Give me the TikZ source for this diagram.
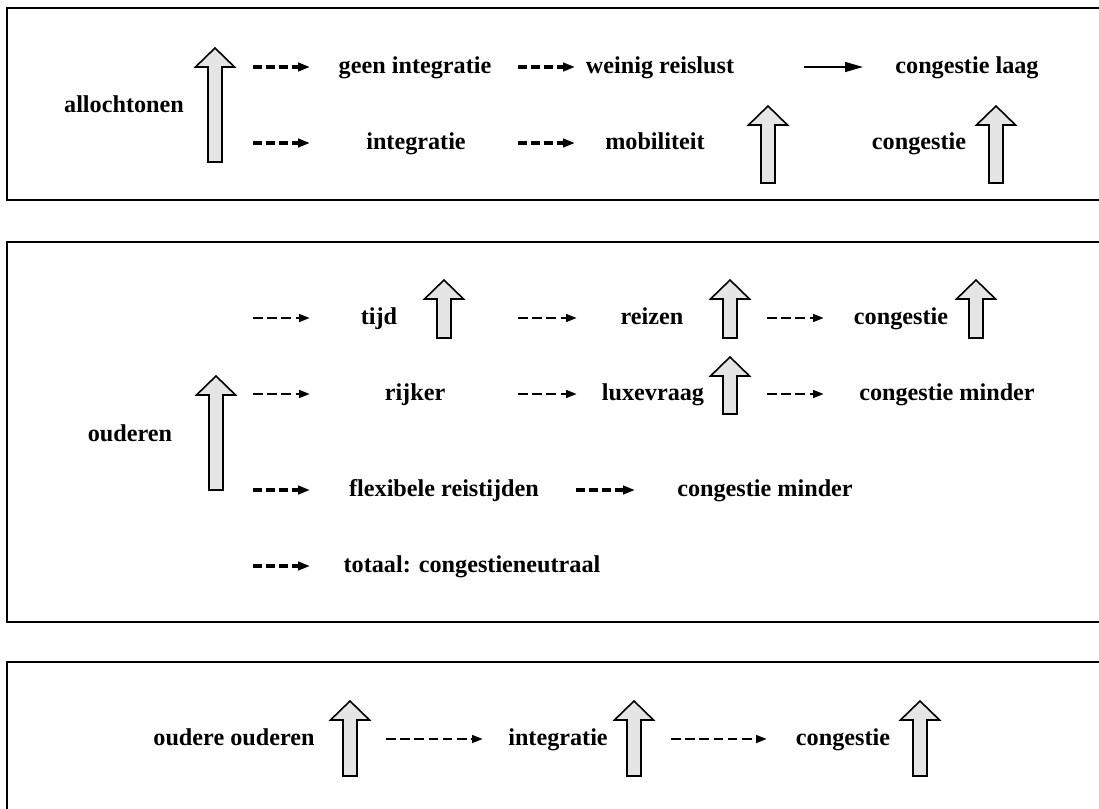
\documentclass[tikz,border=0pt]{standalone}
\usepackage{fontspec}
\setmainfont{Liberation Serif}
\usetikzlibrary{arrows.meta}
\tikzset{
  txt/.style = {font = \fontsize{12.1}{14}\selectfont\bfseries, anchor = base, inner sep = 0pt},
  kader/.style = {draw = black, line width = 1pt},
  blok/.style = {draw = black, fill = black!10, line width = 0.8pt, line join = miter},
  stippijl/.style = {line width = 1.6pt, dash pattern = on 4.5pt off 2pt, -{Triangle[length = 6pt, width = 4.2pt]}},
  stippijldun/.style = {line width = 1.3pt, dash pattern = on 4.8pt off 2.3pt, -{Triangle[length = 5.5pt, width = 3.8pt]}},
  vastpijl/.style = {line width = 0.7pt, -{Triangle[length = 9pt, width = 5pt]}}
}
\newcommand\blokpijl[3]{\draw[blok] (#1-7,#3) -- (#1-7,#2+19) -- (#1-19.5,#2+19) -- (#1,#2) -- (#1+19.5,#2+19) -- (#1+7,#2+19) -- (#1+7,#3) -- cycle;}
\begin{document}
\begin{tikzpicture}[x = 0.5pt, y = -0.5pt]
\useasboundingbox (0,0) rectangle (1099,809);
\draw[kader] (7,8) rectangle (1112,200);
\draw[kader] (7,242) rectangle (1112,622);
\draw[kader] (7,662) rectangle (1112,830);
% allochtonen
\node[txt] (allo) at (124,112) {allochtonen};
\node[txt] (geenint) at (415,73) {geen integratie};
\node[txt] (integr) at (416,149) {integratie};
\node[txt] (weinig) at (660,73) {weinig reislust};
\node[txt] (mobil) at (655,149) {mobiliteit};
\node[txt] (conglaag) at (967,73) {congestie laag};
\node[txt] (congA) at (919,149) {congestie};
\blokpijl{215}{48}{162}
\blokpijl{768}{106}{183}
\blokpijl{996}{106}{183}
\foreach \nm/\xa/\xb/\yy in {a1/253/310/67, a2/253/310/143, a3/518/575/67, a4/518/575/143} {
  \coordinate (\nm s) at (\xa,\yy);
  \coordinate (\nm e) at (\xb,\yy);
  \draw[stippijl] (\nm s) -- (\nm e);
}
\coordinate (a5s) at (804,67);
\coordinate (a5e) at (863,67);
\draw[vastpijl] (a5s) -- (a5e);
% ouderen
\node[txt] (oud) at (130,441) {ouderen};
\node[txt] (tijd) at (379,324) {tijd};
\node[txt] (rijker) at (415,400) {rijker};
\node[txt] (reizen) at (652,324) {reizen};
\node[txt] (luxe) at (653,400) {luxevraag};
\node[txt] (congB) at (901,324) {congestie};
\node[txt] (congmin) at (947,400) {congestie minder};
\node[txt] (flex) at (444,496) {flexibele reistijden};
\node[txt] (congmin2) at (765,496) {congestie minder};
\node[txt] (totaal) at (472,572) {totaal: congestieneutraal};
\blokpijl{216}{376}{490}
\blokpijl{444}{280}{338}
\blokpijl{730}{280}{338}
\blokpijl{730}{357}{414}
\blokpijl{976}{280}{338}
\foreach \nm/\xa/\xb/\yy in {b1/253/310/318, b2/253/310/394, b3/518/577/318, b4/518/577/394, b5/767/824/318, b6/767/824/394} {
  \coordinate (\nm s) at (\xa,\yy);
  \coordinate (\nm e) at (\xb,\yy);
  \draw[stippijldun] (\nm s) -- (\nm e);
}
\foreach \nm/\xa/\xb/\yy in {b7/253/310/490, b8/576/635/490, b9/253/310/566} {
  \coordinate (\nm s) at (\xa,\yy);
  \coordinate (\nm e) at (\xb,\yy);
  \draw[stippijl] (\nm s) -- (\nm e);
}
% oudere ouderen
\node[txt] (oudoud) at (234,745) {oudere ouderen};
\node[txt] (integrC) at (558,745) {integratie};
\node[txt] (congC) at (843,745) {congestie};
\blokpijl{350}{701}{776}
\blokpijl{634}{701}{776}
\blokpijl{920}{701}{776}
\foreach \nm/\xa/\xb/\yy in {c1/386/483/739, c2/671/767/739} {
  \coordinate (\nm s) at (\xa,\yy);
  \coordinate (\nm e) at (\xb,\yy);
  \draw[stippijldun] (\nm s) -- (\nm e);
}
\end{tikzpicture}
\end{document}
